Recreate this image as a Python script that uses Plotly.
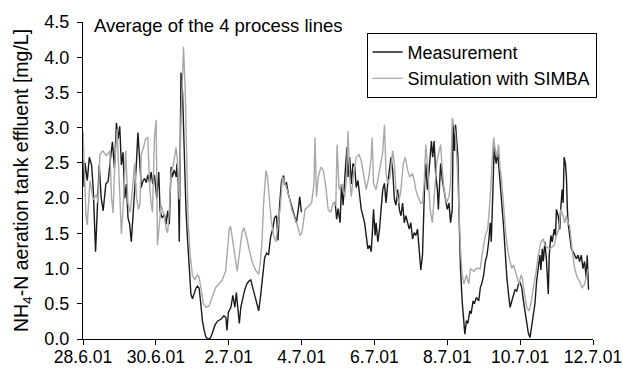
import pandas as pd
import plotly.graph_objects as go

START = pd.Timestamp("2001-06-28")

# Measurement (days since 28.6.01 00:00, NH4-N mg/L); None = data gap
meas_days = [0.00, 0.03, 0.055, 0.118, 0.173, 0.236, 0.282, 0.345, 0.391, 0.445, 0.50, 0.554, 0.627, 0.69, 0.754,
             0.808, 0.863, 0.918, 0.963, 1.008, 1.054, 1.10, 1.145, 1.19, 1.236, 1.28, 1.326, 1.37, 1.417, 1.463,
             1.508, 1.553, 1.60, 1.644, 1.69, 1.735, 1.78, 1.826, 1.87, 1.916, 1.96, 2.025, 2.08, 2.116, 2.17,
             2.235, 2.28, 2.325, 2.37, 2.417, 2.452, 2.507, 2.561, 2.58, 2.616, 2.643, 2.689, 2.733, 2.779, 2.826,
             2.869, 2.916, 2.962, 3.005, 3.052, 3.098, 3.142, 3.188, 3.234, 3.278, 3.324, 3.371, 3.42, 3.46, 3.50,
             3.542, 3.624, 3.706, 3.787, 3.869, 3.924, 3.951, 3.992, 4.06, 4.114, 4.169, 4.21, 4.251, 4.292, 4.332,
             4.387, 4.441, 4.496, 4.55, 4.605, 4.659, 4.714, 4.768, 4.823, 4.877, 4.932, 4.986, 5.041, 5.095, 5.150,
             5.204, 5.259, 5.313, 5.354, 5.395, 5.450, 5.504, 5.531, 5.586, 5.64, 5.695, 5.749, 5.804, 5.858, 5.913,
             5.95, 5.995, 6.45, 6.921, 6.962, 7.003, 7.057, 7.098, 7.139, 7.213, 7.248, 7.275, 7.322, 7.365, 7.411,
             7.458, 7.501, 7.548, 7.594, 7.638, 7.684, 7.73, 7.774, 7.82, 7.866, 7.91, 7.937, 7.975, 8.019, 8.046,
             8.093, 8.139, 8.183, 8.229, 8.275, 8.319, 8.365, 8.411, 8.455, 8.501, 8.548, 8.591, 8.638, 8.684, 8.728,
             8.774, 8.82, 8.864, 8.910, 8.956, 9.0, 9.046, 9.093, 9.136, 9.183, 9.229, 9.273, 9.319, 9.346, 9.381,
             9.409, 9.455, 9.501, 9.564, 9.599, 9.638, 9.681, 9.728, 9.755, 9.782, 9.817, 9.864, 9.91, 9.954, 10.0,
             10.046, 10.09, 10.136, 10.163, 10.199, 10.226, 10.253, 10.292, 10.319, 10.362, 10.409, 10.455, 10.482,
             10.526, 10.564, 10.619, 10.654, 10.708, 10.744, 10.798, 10.864, 10.907, 10.954, 11.0, 11.044, 11.09,
             11.136, 11.18, 11.207, 11.253, 11.289, 11.316, 11.343, 11.381, 11.436, 11.471, 11.499, 11.545, 11.589,
             11.635, 11.681, 11.725, 11.771, 11.818, 11.861, 11.907, 11.954, 11.997, 12.044, 12.09, 12.134, 12.18,
             12.226, 12.27, 12.316, 12.362, 12.406, 12.452, 12.499, 12.542, 12.569, 12.608, 12.635, 12.68, 12.725,
             12.772, 12.799, 12.843, 12.881, 12.935, 12.97, 12.997, 13.044, 13.087, 13.114, 13.153, 13.18, 13.207,
             13.243, 13.27, 13.297, 13.316, 13.36, 13.406, 13.452, 13.496, 13.542, 13.589, 13.632, 13.678, 13.725,
             13.768, 13.815, 13.842, 13.877]
meas_vals = [2.55, 2.16, 2.50, 2.25, 2.58, 2.47, 2.12, 1.24, 1.82, 2.47, 2.0, 1.82, 2.20, 2.24, 2.56,
             2.80, 2.42, 3.07, 2.84, 3.02, 2.47, 2.65, 2.0, 2.2, 1.72, 1.63, 1.38, 1.82, 2.1, 2.47,
             2.93, 2.56, 2.15, 2.24, 2.28, 2.22, 2.33, 2.22, 2.37, 2.2, 2.33, 2.0, 2.37, 1.82, 1.72,
             1.77, 1.63, 1.82, 1.63, 2.44, 2.3, 2.4, 2.3, 2.49, 2.2, 1.38, 3.78, 3.5, 2.49, 1.84,
             1.42, 0.96, 0.64, 0.57, 0.66, 0.72, 0.75, 0.72, 0.5, 0.26, 0.13, 0.03, 0.0, 0.0, 0.02,
             0.07, 0.2, 0.26, 0.28, 0.33, 0.3, 0.12, 0.38, 0.45, 0.62, 0.45, 0.66, 0.42, 0.22, 0.45,
             0.6, 0.7, 0.78, 0.82, 0.84, 0.72, 0.6, 0.48, 0.40, 0.62, 0.95, 1.15, 1.22, 1.2, 1.45,
             1.55, 1.72, 1.75, 1.4, 1.88, 2.25, 2.32, 2.2, 2.22, 2.05, 1.95, 1.88, 1.75, 1.65, 1.85,
             2.02, 1.8, None, 1.95, 1.7, 1.85, 1.65, 2.2, 1.9, 2.49, 2.72, 2.3, 2.58, 2.2, 2.49,
             2.45, 2.15, 2.25, 2.02, 1.84, 1.75, 1.65, 1.47, 1.28, 1.33, 1.24, 1.45, 1.84, 1.47, 1.65,
             1.38, 1.56, 1.84, 2.12, 2.21, 1.93, 2.21, 2.44, 2.58, 2.4, 1.98, 1.9, 2.12, 1.84, 1.75,
             1.93, 1.65, 1.75, 1.65, 1.56, 1.65, 1.42, 1.51, 1.47, 1.56, 1.19, 0.98, 1.19, 1.84, 2.25,
             2.49, 2.12, 2.4, 2.81, 2.58, 2.81, 2.35, 2.12, 1.84, 2.12, 2.49, 2.25, 2.12, 2.02, 1.84,
             1.93, 1.65, 1.84, 3.04, 2.67, 3.04, 2.86, 2.58, 1.84, 1.0, 0.54, 0.17, 0.07,
             0.26, 0.22, 0.40, 0.36, 0.54, 0.5, 0.59, 0.54, 0.73, 0.8, 0.91, 1.1, 1.19,
             1.38, 1.65, 1.38, 2.12, 2.76, 2.58, 2.49, 2.67, 2.35, 2.16, 1.9, 1.6, 1.19,
             0.87, 0.64, 0.45, 0.54, 0.64, 0.7, 0.68, 0.78, 0.8, 0.73, 0.54, 0.40, 0.26,
             0.08, 0.02, 0.17, 0.36, 0.5, 0.82, 1.0, 1.19, 0.98, 1.28, 1.1, 1.38, 1.1,
             0.64, 1.19, 1.47, 1.38, 1.56, 1.47, 1.84, 1.75, 1.56, 1.84, 2.12, 1.93, 2.58,
             2.49, 2.3, 1.84, 1.65, 1.47, 1.28, 1.24, 1.19, 1.14, 1.19, 1.1, 1.19, 1.0,
             1.1, 0.87, 1.19, 0.7]

# Simulation with SIMBA
sim_days = [0.0, 0.027, 0.082, 0.117, 0.191, 0.281, 0.373, 0.417, 0.463, 0.545, 0.64, 0.736, 0.782, 0.826, 0.872,
            0.935, 0.981, 1.054, 1.117, 1.172, 1.234, 1.294, 1.354, 1.417, 1.471, 1.526, 1.567, 1.6, 1.662, 1.717,
            1.779, 1.826, 1.866, 1.907, 1.962, 2.008, 2.044, 2.098, 2.144, 2.188, 2.234, 2.281, 2.324, 2.371, 2.417,
            2.488, 2.553, 2.589, 2.643, 2.689, 2.76, 2.807, 2.853, 2.888, 2.943, 3.005, 3.071, 3.142, 3.188, 3.234,
            3.305, 3.371, 3.46, 3.55, 3.643, 3.733, 3.823, 3.916, 3.959, 4.014, 4.052, 4.095, 4.142, 4.188, 4.232,
            4.278, 4.324, 4.368, 4.414, 4.46, 4.504, 4.55, 4.64, 4.733, 4.823, 4.869, 4.913, 4.959, 5.022, 5.063,
            5.114, 5.169, 5.232, 5.294, 5.341, 5.414, 5.477, 5.55, 5.605, 5.659, 5.73, 5.823, 5.894, 5.959, 6.003,
            6.049, 6.095, 6.185, 6.275, 6.34, 6.368, 6.411, 6.458, 6.531, 6.594, 6.657, 6.730, 6.804, 6.866, 6.94,
            6.975, 7.03, 7.093, 7.185, 7.229, 7.275, 7.322, 7.365, 7.431, 7.501, 7.575, 7.638, 7.703, 7.774, 7.847,
            7.91, 7.937, 7.975, 8.046, 8.12, 8.183, 8.229, 8.275, 8.319, 8.365, 8.428, 8.501, 8.548, 8.591, 8.665,
            8.728, 8.793, 8.848, 8.91, 8.973, 9.046, 9.093, 9.136, 9.196, 9.273, 9.319, 9.365, 9.409, 9.455, 9.529,
            9.591, 9.638, 9.709, 9.774, 9.817, 9.864, 9.91, 9.981, 10.046, 10.09, 10.136, 10.183, 10.226, 10.272,
            10.319, 10.362, 10.409, 10.455, 10.526, 10.591, 10.635, 10.727, 10.79, 10.907, 10.954, 11.044, 11.11,
            11.18, 11.226, 11.272, 11.316, 11.362, 11.408, 11.452, 11.485, 11.545, 11.608, 11.681, 11.725, 11.771,
            11.818, 11.907, 11.97, 12.025, 12.063, 12.117, 12.18, 12.243, 12.297, 12.362, 12.425, 12.499, 12.569,
            12.635, 12.68, 12.743, 12.815, 12.861, 12.935, 12.997, 13.06, 13.114, 13.18, 13.223, 13.27, 13.316,
            13.36, 13.425, 13.496, 13.569, 13.632, 13.698, 13.752, 13.815, 13.861]
sim_vals = [2.95, 2.5, 1.75, 1.62, 2.25, 1.98, 2.05, 1.93, 2.62, 2.67, 2.6, 2.67, 2.02, 1.79, 2.49,
            2.98, 2.3, 1.49, 2.0, 2.67, 1.93, 1.8, 2.1, 2.49, 2.0, 1.84, 1.93, 2.62, 2.72, 2.84,
            2.86, 2.2, 1.93, 1.8, 2.86, 3.11, 1.33, 1.7, 1.9, 1.82, 1.75, 1.56, 1.51, 1.84, 2.35,
            2.49, 2.72, 2.55, 1.98, 3.1, 4.15, 3.5, 2.49, 1.65, 1.19, 0.9, 0.84, 0.91, 0.88, 0.73,
            0.5, 0.45, 0.47, 0.6, 0.73, 0.78, 0.84, 0.96, 1.19, 1.56, 1.6, 1.45, 1.25, 1.1, 0.96,
            1.15, 1.35, 1.52, 1.58, 1.5, 1.42, 1.3, 1.1, 0.98, 0.92, 1.1, 1.38, 1.93, 2.39, 2.3,
            2.0, 1.68, 1.47, 1.38, 1.55, 1.86, 2.3, 2.2, 2.12, 2.02, 1.84, 1.7, 1.6, 1.47, 1.5,
            1.65, 1.84, 1.88, 1.93, 2.2, 2.86, 2.02, 2.3, 2.44, 2.4, 2.2, 1.84, 1.8, 1.93, 1.9,
            2.76, 2.12, 2.2, 2.02, 2.25, 2.95, 2.3, 2.02, 2.35, 2.58, 2.62, 2.53, 2.3, 2.12, 2.3,
            2.58, 2.86, 2.21, 2.12, 2.35, 2.49, 2.65, 3.04, 2.35, 2.21, 2.3, 2.67, 2.49, 2.12, 1.93,
            2.12, 2.49, 2.58, 2.4, 2.3, 2.35, 2.25, 2.12, 2.02, 1.93, 1.93, 2.21, 2.76, 2.49, 1.84,
            1.65, 2.0, 2.49, 2.67, 2.76, 2.4, 2.12, 1.93, 2.02, 2.21, 3.14, 3.04, 2.9, 2.49,
            1.84, 1.28, 0.91, 0.78, 0.91, 0.78, 1.0, 0.96, 1.0, 1.0, 1.19, 1.47, 1.56,
            2.02, 2.49, 2.86, 2.67, 2.58, 2.76, 2.4, 2.3, 1.84, 1.47, 1.19, 1.1, 1.0,
            1.05, 0.91, 0.78, 0.91, 0.86, 0.64, 0.45, 0.40, 0.5, 0.73, 0.91, 1.19, 1.38,
            1.42, 1.33, 1.3, 1.28, 1.3, 1.33, 1.47, 1.56, 1.84, 1.75, 1.65, 1.75, 1.65,
            1.6, 1.28, 1.0, 0.87, 0.82, 0.73, 0.76, 0.87, 1.0]

tick_days = [0, 2, 4, 6, 8, 10, 12, 14]
tick_labels = ["28.6.01", "30.6.01", "2.7.01", "4.7.01", "6.7.01", "8.7.01", "10.7.01", "12.7.01"]
y_ticks = [0.0, 0.5, 1.0, 1.5, 2.0, 2.5, 3.0, 3.5, 4.0, 4.5]


def to_time(days):
    return [START + pd.Timedelta(days=d) for d in days]


FONT = "Liberation Sans, Arial, sans-serif"

fig = go.Figure()
fig.add_trace(go.Scatter(x=to_time(meas_days), y=meas_vals, mode="lines", name="Measurement",
                         line=dict(color="#1a1a1a", width=1.4), connectgaps=False))
fig.add_trace(go.Scatter(x=to_time(sim_days), y=sim_vals, mode="lines", name="Simulation with SIMBA",
                         line=dict(color="#a8a8a8", width=1.4)))

fig.update_layout(
    width=623, height=371,
    margin=dict(l=83, r=30, t=15, b=32),
    paper_bgcolor="white", plot_bgcolor="white",
    font=dict(family=FONT, size=18, color="black"),
    showlegend=True,
    legend=dict(x=0.556, y=0.966, xanchor="left", yanchor="top", bgcolor="white",
                bordercolor="black", borderwidth=1, font=dict(size=18), itemwidth=30,
                traceorder="normal"),
    annotations=[dict(text="Average of the 4 process lines", x=0.018, y=0.99, xref="paper", yref="paper",
                      xanchor="left", yanchor="middle", showarrow=False, font=dict(size=18.5))],
)
fig.update_xaxes(range=[START, START + pd.Timedelta(days=14)], tickvals=to_time(tick_days), ticktext=tick_labels,
                 showgrid=False, zeroline=False, showline=True, linecolor="black", linewidth=1,
                 ticks="outside", ticklen=5, tickcolor="black", tickfont=dict(size=17.5),
                 ticklabeloverflow="allow", automargin=False, ticklabelstandoff=-3)
fig.update_yaxes(range=[0, 4.5], tickvals=y_ticks, tickformat=".1f", showgrid=False, zeroline=False,
                 showline=True, linecolor="black", linewidth=1, ticks="outside", ticklen=5,
                 tickcolor="black", tickfont=dict(size=18), ticklabelstandoff=4,
                 title=dict(text="NH<sub>4</sub>-N aeration tank effluent [mg/L]", font=dict(size=19.5), standoff=10))

fig.write_html("out.html")
